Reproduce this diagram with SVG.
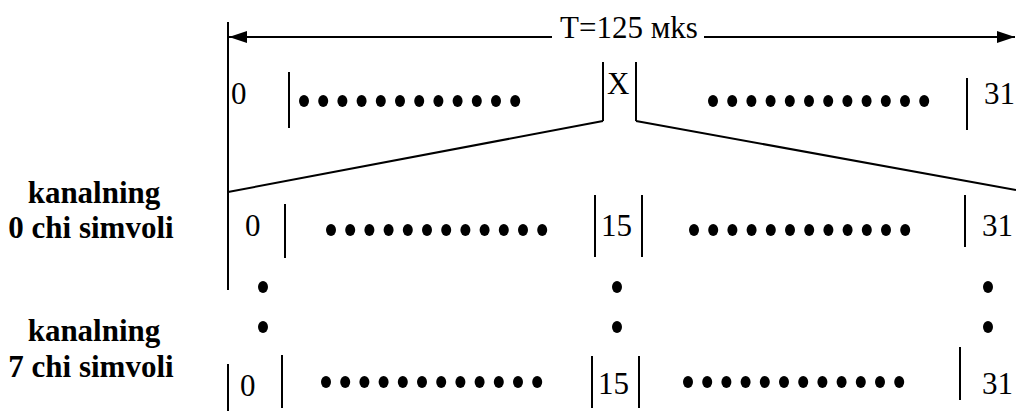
<svg xmlns="http://www.w3.org/2000/svg" width="1016" height="414" viewBox="0 0 1016 414">
<style>
.ln{stroke:#000;stroke-width:2;fill:none}
.t{font-family:"Liberation Serif","Times New Roman",serif;font-size:31px;fill:#000}
.b{font-family:"Liberation Serif","Times New Roman",serif;font-size:31px;font-weight:bold;fill:#000;text-anchor:middle}
.d{fill:#000}
</style>
<defs>
<marker id="ah" viewBox="0 0 18 12" refX="18" refY="6" markerWidth="18" markerHeight="12" markerUnits="userSpaceOnUse" orient="auto">
<path d="M0,0 L18,6 L0,12 z" fill="#000"/>
</marker>
<g id="dots12">
<ellipse cx="0" cy="0" rx="5" ry="6"/><ellipse cx="19.2" cy="0" rx="5" ry="6"/><ellipse cx="38.4" cy="0" rx="5" ry="6"/><ellipse cx="57.6" cy="0" rx="5" ry="6"/><ellipse cx="76.8" cy="0" rx="5" ry="6"/><ellipse cx="96" cy="0" rx="5" ry="6"/><ellipse cx="115.2" cy="0" rx="5" ry="6"/><ellipse cx="134.4" cy="0" rx="5" ry="6"/><ellipse cx="153.6" cy="0" rx="5" ry="6"/><ellipse cx="172.8" cy="0" rx="5" ry="6"/><ellipse cx="192" cy="0" rx="5" ry="6"/><ellipse cx="211.2" cy="0" rx="5" ry="6"/>
</g>
</defs>
<rect width="1016" height="414" fill="#fff"/>

<g id="connectors">
<line class="ln" x1="228" y1="22" x2="228" y2="290"/>
<line class="ln" x1="552" y1="37" x2="229" y2="37" marker-end="url(#ah)"/>
<line class="ln" x1="704" y1="37" x2="1015" y2="37" marker-end="url(#ah)"/>
<line class="ln" x1="603" y1="121" x2="228" y2="192"/>
<line class="ln" x1="636" y1="121" x2="1016" y2="190"/>
</g>

<g id="period-label">
<text class="t" x="629" y="38" text-anchor="middle">T=125 мks</text>
</g>

<g id="frame-row">
<text class="t" x="231" y="104">0</text>
<line class="ln" x1="289" y1="72" x2="289" y2="128"/>
<use href="#dots12" class="d" x="304" y="101"/>
<line class="ln" x1="603" y1="62" x2="603" y2="121"/>
<text class="t" x="607" y="94">X</text>
<line class="ln" x1="636" y1="62" x2="636" y2="121"/>
<use href="#dots12" class="d" x="713" y="101"/>
<line class="ln" x1="967" y1="78" x2="967" y2="130"/>
<text class="t" x="984" y="104">31</text>
</g>

<g id="channel0-label">
<text class="b" x="94" y="203">kanalning</text>
<text class="b" x="91" y="238">0 chi simvoli</text>
</g>

<g id="channel0-row">
<text class="t" x="245" y="236">0</text>
<line class="ln" x1="285" y1="204" x2="285" y2="258"/>
<use href="#dots12" class="d" x="331" y="230"/>
<line class="ln" x1="595" y1="195" x2="595" y2="257"/>
<text class="t" x="601" y="236">15</text>
<line class="ln" x1="642" y1="195" x2="642" y2="257"/>
<use href="#dots12" class="d" x="694" y="230"/>
<line class="ln" x1="965" y1="195" x2="965" y2="247"/>
<text class="t" x="982" y="236">31</text>
</g>

<g id="vertical-ellipsis">
<ellipse class="d" cx="263" cy="287" rx="5" ry="6"/>
<ellipse class="d" cx="263" cy="327" rx="5" ry="6"/>
<ellipse class="d" cx="617" cy="287" rx="5" ry="6"/>
<ellipse class="d" cx="617" cy="327" rx="5" ry="6"/>
<ellipse class="d" cx="988" cy="287" rx="5" ry="6"/>
<ellipse class="d" cx="988" cy="327" rx="5" ry="6"/>
</g>

<g id="channel7-label">
<text class="b" x="94" y="341">kanalning</text>
<text class="b" x="91" y="377">7 chi simvoli</text>
</g>

<g id="channel7-row">
<line class="ln" x1="228" y1="364" x2="228" y2="411"/>
<text class="t" x="240" y="396">0</text>
<line class="ln" x1="282" y1="355" x2="282" y2="408"/>
<use href="#dots12" class="d" x="326" y="382"/>
<line class="ln" x1="592" y1="356" x2="592" y2="408"/>
<text class="t" x="598" y="394">15</text>
<line class="ln" x1="639" y1="356" x2="639" y2="408"/>
<use href="#dots12" class="d" x="688" y="382"/>
<line class="ln" x1="960" y1="347" x2="960" y2="400"/>
<text class="t" x="982" y="394">31</text>
</g>
</svg>
